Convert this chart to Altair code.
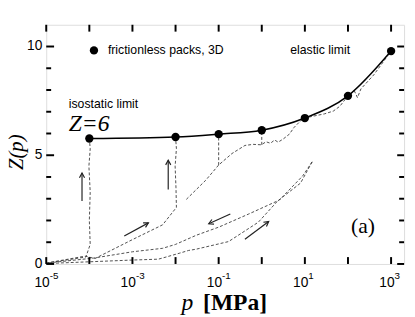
import math
import altair as alt
import pandas as pd

# ---------------- data ----------------
P_PTS = [1e-4, 1e-2, 1e-1, 1, 10, 100, 1000]
Z_PTS = [5.77, 5.84, 5.97, 6.15, 6.71, 7.73, 9.79]

# dashed paths: log10(p) and Z
PATH1_E = [-5.0, -4.08, -3.98, -4.00, -3.98, -4.01, -3.98, -4.0]
PATH1_Z = [0.04, 0.32, 0.9, 2.0, 3.3, 4.5, 5.3, 5.77]

PATH2_E = [-5.0, -4.1, -3.87, -3.0, -2.3, -1.98, -1.99, -2.01, -1.98, -2.0]
PATH2_Z = [0.04, 0.36, 0.25, 1.12, 1.8, 2.6, 3.5, 4.5, 5.3, 5.84]

PATH3_E = [1.17, 0.95, 0.41, -0.3, -0.99, -1.52, -2.0, -2.3, -3.0, -3.9, -5.0]
PATH3_Z = [4.7, 4.05, 2.94, 2.3, 1.7, 1.32, 0.9, 0.72, 0.56, 0.27, 0.04]

PATH4_E = [-5.0, -3.0, -2.4, -2.2, -1.9, -1.7, -1.52, -0.77, -0.08, 0.37, 0.9, 1.17]
PATH4_Z = [0.02, 0.18, 0.22, 0.33, 0.5, 0.62, 0.68, 1.03, 1.92, 2.9, 3.72, 4.7]

PATH5_E = [-1.75, -1.52, -1.3, -1.0, -0.69, -0.39, -0.2, -0.01, 0.1, 0.2, 0.3, 0.38,
           0.5, 0.64, 0.75, 0.9, 1.0, 1.2, 1.45, 1.66, 1.81, 2.0, 2.15, 2.22, 2.3, 2.6, 3.0]
PATH5_Z = [2.97, 3.42, 3.85, 4.55, 5.08, 5.45, 5.5, 5.48, 5.62, 5.55, 5.7, 5.6,
           5.75, 5.97, 6.28, 6.58, 6.71, 6.8, 6.9, 7.03, 7.25, 7.73, 7.95, 7.65, 8.05, 8.7, 9.79]

PATH6_E = [-1.0, -1.0]
PATH6_Z = [4.55, 5.97]
PATH7_E = [0.0, 0.0]
PATH7_Z = [5.48, 6.15]

ARROW_E0 = [-4.17, -2.17, -3.19, -0.73, -0.39]
ARROW_Z0 = [2.9, 3.42, 1.29, 2.3, 1.14]
ARROW_E1 = [-4.17, -2.17, -2.63, -1.23, 0.16]
ARROW_Z1 = [4.18, 4.77, 1.89, 1.85, 1.95]

X_TICK_EXP = [-5, -4, -3, -2, -1, 0, 1, 2, 3]
X_LABEL_EXP = [-5, -3, -1, 1, 3]
Y_MAJOR = [0, 5, 10]
Y_MINOR = [1, 2, 3, 4, 6, 7, 8, 9]

# ---------------- layout ----------------
W, H = 365, 244
XDOM = [1e-5, 2000]
YDOM = [0, 11]
PX_PER_DEC = W / (math.log10(XDOM[1]) - math.log10(XDOM[0]))
PX_PER_Z = H / (YDOM[1] - YDOM[0])

xs = alt.Scale(type="log", domain=XDOM, nice=False)
ys = alt.Scale(domain=YDOM, nice=False, zero=False)


def X(f):
    return alt.X(f, type="quantitative", scale=xs, axis=None, title=None)


def Y(f):
    return alt.Y(f, type="quantitative", scale=ys, axis=None, title=None)


rows = []
for name, E, Z in [("1", PATH1_E, PATH1_Z), ("2", PATH2_E, PATH2_Z), ("3", PATH3_E, PATH3_Z),
                   ("4", PATH4_E, PATH4_Z), ("5", PATH5_E, PATH5_Z), ("6", PATH6_E, PATH6_Z),
                   ("7", PATH7_E, PATH7_Z)]:
    for i, (e, z) in enumerate(zip(E, Z)):
        rows.append({"path": name, "i": i, "p": 10 ** e, "z": z})
dashed_df = pd.DataFrame(rows)

pts_df = pd.DataFrame({"p": P_PTS, "z": Z_PTS})
one_df = pd.DataFrame({"k": [0]})

arr = []
for e0, z0, e1, z1 in zip(ARROW_E0, ARROW_Z0, ARROW_E1, ARROW_Z1):
    dx = (e1 - e0) * PX_PER_DEC
    dy = -(z1 - z0) * PX_PER_Z
    ang = math.degrees(math.atan2(dx, -dy)) % 360
    arr.append({"p0": 10 ** e0, "z0": z0, "p1": 10 ** e1, "z1": z1, "ang": ang})
arrow_df = pd.DataFrame(arr)

xt_df = pd.DataFrame({"p": [10.0 ** e for e in X_TICK_EXP]})
xl_df = pd.DataFrame({"p": [10.0 ** e for e in X_LABEL_EXP],
                      "base": ["10"] * len(X_LABEL_EXP),
                      "ex": [str(e) for e in X_LABEL_EXP]})
ymaj_df = pd.DataFrame({"z": Y_MAJOR, "lab": [str(v) for v in Y_MAJOR]})
ymin_df = pd.DataFrame({"z": Y_MINOR})

DASH_COLOR = "#3a3a3a"

dashed = alt.Chart(dashed_df).mark_line(
    strokeDash=[3, 2], strokeWidth=0.9, color=DASH_COLOR
).encode(x=X("p"), y=Y("z"), detail="path:N", order="i:Q")

curve = alt.Chart(pts_df).mark_line(
    interpolate="monotone", color="black", strokeWidth=1.5
).encode(x=X("p"), y=Y("z"))

points = alt.Chart(pts_df).mark_circle(size=72, color="black", opacity=1).encode(
    x=X("p"), y=Y("z"))

shafts = alt.Chart(arrow_df).mark_rule(color="#222", strokeWidth=1.2).encode(
    x=X("p0"), y=Y("z0"), x2="p1:Q", y2="z1:Q")

heads = alt.Chart(arrow_df).mark_point(
    shape="M-0.55,1 L0,0 L0.55,1", filled=False, color="#222", strokeWidth=1.2,
    size=90, opacity=1
).encode(x=X("p1"), y=Y("z1"), angle=alt.Angle("ang:Q", scale=None))

# ticks (inward)
xt_bottom = alt.Chart(xt_df).mark_rule(color="black", strokeWidth=2).encode(
    x=X("p"), y=alt.value(H), y2=alt.value(H - 7))
xt_top = alt.Chart(xt_df).mark_rule(color="black", strokeWidth=2).encode(
    x=X("p"), y=alt.value(0), y2=alt.value(7))
yt_maj_l = alt.Chart(ymaj_df).mark_rule(color="black", strokeWidth=2).encode(
    y=Y("z"), x=alt.value(0), x2=alt.value(8))
yt_min_l = alt.Chart(ymin_df).mark_rule(color="black", strokeWidth=2).encode(
    y=Y("z"), x=alt.value(0), x2=alt.value(5))
yt_maj_r = alt.Chart(ymaj_df).mark_rule(color="black", strokeWidth=2).encode(
    y=Y("z"), x=alt.value(W), x2=alt.value(W - 7))
yt_min_r = alt.Chart(ymin_df).mark_rule(color="black", strokeWidth=2).encode(
    y=Y("z"), x=alt.value(W), x2=alt.value(W - 5))

# tick labels
SANS = "Liberation Sans"
SERIF = "Liberation Serif"
yl = alt.Chart(ymaj_df).mark_text(font=SANS, fontSize=14, align="right",
                                  baseline="middle", dx=-4).encode(
    y=Y("z"), x=alt.value(0), text="lab:N")
xl_base = alt.Chart(xl_df).mark_text(font=SANS, fontSize=14, align="right",
                                     baseline="alphabetic", dx=3.5, dy=23).encode(
    x=X("p"), y=alt.value(H), text="base:N")
xl_exp = alt.Chart(xl_df).mark_text(font=SANS, fontSize=10, align="left",
                                    baseline="alphabetic", dx=3.5, dy=15).encode(
    x=X("p"), y=alt.value(H), text="ex:N")

# axis titles
ytitle = alt.Chart(one_df).mark_text(font=SERIF, fontStyle="italic", fontSize=21,
                                     angle=270, align="center", baseline="middle").encode(
    x=alt.value(-30), y=alt.value(130), text=alt.value("Z(p)"))
xt_p = alt.Chart(one_df).mark_text(font=SERIF, fontStyle="italic", fontSize=24,
                                   align="center", baseline="alphabetic").encode(
    x=alt.value(144), y=alt.value(291), text=alt.value("p"))
xt_u = alt.Chart(one_df).mark_text(font=SERIF, fontWeight="bold", fontSize=24,
                                   align="left", baseline="alphabetic").encode(
    x=alt.value(160), y=alt.value(291), text=alt.value("[MPa]"))


# annotations
def note(txt, e, z, font=SANS, size=12.5, style="normal", baseline="middle"):
    return alt.Chart(one_df).mark_text(font=font, fontSize=size, fontStyle=style,
                                       align="left", baseline=baseline, color="black").encode(
        x=alt.X(datum=10 ** e, scale=xs, axis=None),
        y=alt.Y(datum=z, scale=ys, axis=None), text=alt.value(txt))


legend_dot = alt.Chart(one_df).mark_circle(size=72, color="black", opacity=1).encode(
    x=alt.X(datum=10 ** -3.893, scale=xs, axis=None), y=alt.Y(datum=9.82, scale=ys, axis=None))

notes = [
    note("frictionless packs, 3D", -3.57, 9.82),
    note("elastic limit", 0.659, 9.82),
    note("isostatic limit", -4.477, 7.36),
    note("Z=6", -4.477, 6.13, font=SERIF, size=24, style="italic", baseline="alphabetic"),
    note("(a)", 2.07, 1.76, font=SERIF, size=22),
]

chart = alt.layer(
    dashed, curve, points, shafts, heads,
    xt_bottom, xt_top, yt_maj_l, yt_min_l, yt_maj_r, yt_min_r,
    yl, xl_base, xl_exp, ytitle, xt_p, xt_u, legend_dot, *notes
).properties(
    width=W, height=H,
    padding={"left": 39, "top": 14, "right": 3, "bottom": 51},
    autosize=alt.AutoSizeParams(type="none"),
).configure_view(stroke="black", strokeWidth=2.5).configure(background="white")

chart.save("out.html", embed_options={"renderer": "svg", "actions": False})
